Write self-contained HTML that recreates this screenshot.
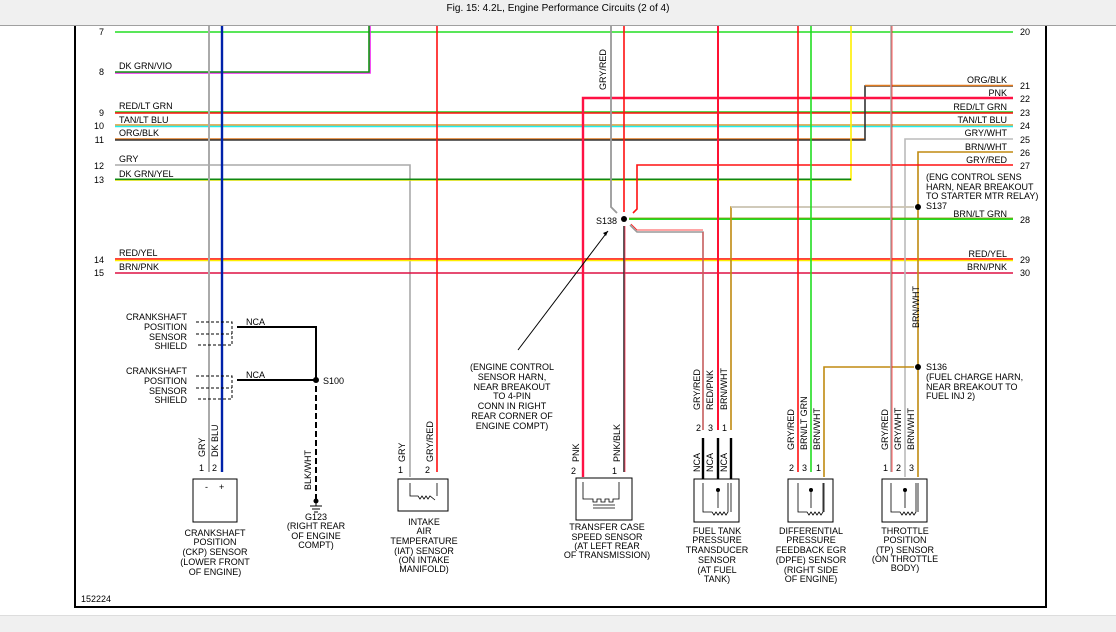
<!DOCTYPE html>
<html><head><style>
body{margin:0;background:#fff;width:1116px;height:632px;overflow:hidden}
svg{display:block}
text{font-family:"Liberation Sans",sans-serif;font-size:9px;fill:#000}
</style></head><body>
<svg width="1116" height="632" viewBox="0 0 1116 632">
<rect x="0" y="0" width="1116" height="25" fill="#f0f0f0"/>
<line x1="0" y1="25.5" x2="1116" y2="25.5" stroke="#a0a0a0"/>
<text x="558" y="11" text-anchor="middle" style="font-size:10px">Fig. 15: 4.2L, Engine Performance Circuits (2 of 4)</text>
<rect x="0" y="616" width="1116" height="16" fill="#f0f0f0"/>
<line x1="0" y1="615.5" x2="1116" y2="615.5" stroke="#ddd"/>
<!-- frame -->
<path d="M75 26V607H1046V26" fill="none" stroke="#000" stroke-width="2"/>
<g fill="none" stroke-width="1.6">
<!-- horizontal buses -->
<line x1="115" y1="32" x2="1013" y2="32" stroke="#22dd22"/>
<path d="M115 73H370V26" stroke="#ee22ee"/>
<path d="M115 72H369V26" stroke="#119911"/>
<line x1="115" y1="112" x2="1013" y2="112" stroke="#22cc22"/>
<line x1="115" y1="113" x2="1013" y2="113" stroke="#ff1111"/>
<line x1="115" y1="125" x2="1013" y2="125" stroke="#d89a33"/>
<line x1="115" y1="126.5" x2="1013" y2="126.5" stroke="#22eeee"/>
<line x1="115" y1="139" x2="865" y2="139" stroke="#e07a20"/>
<path d="M115 140H865V86H1013" stroke="#333"/>
<line x1="865" y1="85.5" x2="1013" y2="85.5" stroke="#e07a20"/>
<path d="M115 165H410V477" stroke="#aaaaaa"/>
<path d="M115 180H851V26" stroke="#ffee00"/>
<line x1="115" y1="179.3" x2="851" y2="179.3" stroke="#118811"/>
<line x1="115" y1="259" x2="1013" y2="259" stroke="#ff0000"/>
<line x1="115" y1="260.5" x2="1013" y2="260.5" stroke="#ffee00"/>
<line x1="115" y1="273" x2="1013" y2="273" stroke="#dd1144"/>
<path d="M583 477V98H1013" stroke="#ff1144" stroke-width="2.4"/>
<path d="M905 477V139H1013" stroke="#bbbbbb"/>
<path d="M918 477V152H1013" stroke="#c08a10"/>
<path d="M633 213L637 209V165H1013" stroke="#ff1111"/>
<path d="M629 219H1013" stroke="#22dd22" stroke-width="2"/>
<line x1="629" y1="218" x2="1013" y2="218" stroke="#888800" stroke-width="0.8"/>
<path d="M731 477V207H914" stroke="#c08a10"/>
<line x1="731" y1="207" x2="914" y2="207" stroke="#cccccc"/>
<path d="M824 477V367H914" stroke="#c08a10"/>
<!-- verticals -->
<line x1="209" y1="26" x2="209" y2="472" stroke="#aaaaaa" stroke-width="2"/>
<line x1="222" y1="26" x2="222" y2="472" stroke="#0022aa" stroke-width="2.4"/>
<line x1="437" y1="26" x2="437" y2="472" stroke="#ff1111"/>
<path d="M611 26V207L617 213" stroke="#999" stroke-width="1.8"/>
<path d="M624 26V212" stroke="#ff1111"/>
<path d="M624 226V472" stroke="#333"/>
<line x1="625" y1="226" x2="625" y2="472" stroke="#ff3355" stroke-width="0.8"/>
<path d="M630 225L637 232H703V472" stroke="#999" stroke-width="1.6"/>
<path d="M631 224L637 230H703" stroke="#ff1111" stroke-width="0.8"/>
<line x1="718" y1="26" x2="718" y2="472" stroke="#ff1133" stroke-width="2"/>
<line x1="798" y1="26" x2="798" y2="472" stroke="#ff1111" stroke-width="1.6"/>
<line x1="811" y1="26" x2="811" y2="472" stroke="#22dd22" stroke-width="1.6"/>
<line x1="891" y1="26" x2="891" y2="472" stroke="#aaaaaa" stroke-width="1.6"/>
<line x1="892" y1="26" x2="892" y2="472" stroke="#ff1111" stroke-width="0.7"/>
<line x1="703" y1="232" x2="703" y2="472" stroke="#ff1111" stroke-width="0.7"/>
<!-- crankshaft shield -->
<path d="M237 327H316V380" stroke="#000" stroke-width="2"/>
<path d="M237 380H316" stroke="#000" stroke-width="2"/>
<path d="M316 386V500" stroke="#000" stroke-width="2" stroke-dasharray="6,3"/>
<!-- fuel tank NCA wires -->
<line x1="703" y1="440" x2="703" y2="479" stroke="#000" stroke-width="2.4"/>
<line x1="718" y1="440" x2="718" y2="479" stroke="#000" stroke-width="2.4"/>
<line x1="731" y1="440" x2="731" y2="479" stroke="#000" stroke-width="2.4"/>
</g>
<rect x="700" y="430" width="35" height="50" fill="#fff"/>
<g fill="none" stroke="#000" stroke-width="2.4">
<line x1="703" y1="438" x2="703" y2="479"/><line x1="718" y1="438" x2="718" y2="479"/><line x1="731" y1="438" x2="731" y2="479"/>
</g>
<rect x="694" y="479" width="45" height="43" fill="#fff" stroke="#000"/>
<!-- splice dots -->
<circle cx="624" cy="219" r="3"/><circle cx="918" cy="207" r="3"/><circle cx="918" cy="367" r="3"/><circle cx="316" cy="380" r="3"/>
<!-- shields text -->
<g fill="none" stroke="#000" stroke-width="1" stroke-dasharray="3,2">
<path d="M196 322H232V345H196"/><path d="M196 376H232V399H196"/>
<line x1="196" y1="334" x2="232" y2="334"/><line x1="196" y1="388" x2="232" y2="388"/>
</g>
<text x="187" y="320" text-anchor="end">CRANKSHAFT</text><text x="187" y="330" text-anchor="end">POSITION</text><text x="187" y="340" text-anchor="end">SENSOR</text><text x="187" y="349" text-anchor="end">SHIELD</text>
<text x="187" y="374" text-anchor="end">CRANKSHAFT</text><text x="187" y="384" text-anchor="end">POSITION</text><text x="187" y="394" text-anchor="end">SENSOR</text><text x="187" y="403" text-anchor="end">SHIELD</text>
<text x="246" y="325">NCA</text><text x="246" y="378">NCA</text><text x="323" y="384">S100</text>
<!-- ground -->
<path d="M310 506H322M312 509H320M314 512H318M316 500V506" stroke="#000" fill="none"/>
<circle cx="316" cy="501" r="2.5"/>
<!-- S138 leader -->
<line x1="518" y1="350" x2="608" y2="231" stroke="#000"/><path d="M608 231l-5 2l3 3z"/>
<!-- left numbers/labels -->
<g text-anchor="end">
<text x="104" y="35">7</text><text x="104" y="75">8</text><text x="104" y="116">9</text><text x="104" y="129">10</text><text x="104" y="143">11</text><text x="104" y="169">12</text><text x="104" y="183">13</text><text x="104" y="263">14</text><text x="104" y="276">15</text>
</g>
<text x="119" y="69">DK GRN/VIO</text><text x="119" y="109">RED/LT GRN</text><text x="119" y="123">TAN/LT BLU</text><text x="119" y="136">ORG/BLK</text><text x="119" y="162">GRY</text><text x="119" y="177">DK GRN/YEL</text><text x="119" y="256">RED/YEL</text><text x="119" y="270">BRN/PNK</text>
<g text-anchor="end">
<text x="1007" y="83">ORG/BLK</text><text x="1007" y="96">PNK</text><text x="1007" y="110">RED/LT GRN</text><text x="1007" y="123">TAN/LT BLU</text><text x="1007" y="136">GRY/WHT</text><text x="1007" y="150">BRN/WHT</text><text x="1007" y="163">GRY/RED</text><text x="1007" y="217">BRN/LT GRN</text><text x="1007" y="257">RED/YEL</text><text x="1007" y="270">BRN/PNK</text>
</g>
<g><text x="1020" y="35">20</text><text x="1020" y="89">21</text><text x="1020" y="102">22</text><text x="1020" y="116">23</text><text x="1020" y="129">24</text><text x="1020" y="143">25</text><text x="1020" y="156">26</text><text x="1020" y="169">27</text><text x="1020" y="223">28</text><text x="1020" y="263">29</text><text x="1020" y="276">30</text></g>
<text x="926" y="180">(ENG CONTROL SENS</text><text x="926" y="190">HARN, NEAR BREAKOUT</text><text x="926" y="199">TO STARTER MTR RELAY)</text><text x="926" y="209">S137</text>
<text x="926" y="370">S136</text><text x="926" y="380">(FUEL CHARGE HARN,</text><text x="926" y="390">NEAR BREAKOUT TO</text><text x="926" y="399">FUEL INJ 2)</text>
<text x="596" y="224">S138</text>
<g text-anchor="middle"><text x="512" y="370">(ENGINE CONTROL</text><text x="512" y="380">SENSOR HARN,</text><text x="512" y="390">NEAR BREAKOUT</text><text x="512" y="399">TO 4-PIN</text><text x="512" y="409">CONN IN RIGHT</text><text x="512" y="419">REAR CORNER OF</text><text x="512" y="429">ENGINE COMPT)</text></g>
<!-- rotated wire labels -->
<g style="font-size:8px">
<text transform="translate(606,90) rotate(-90)">GRY/RED</text>
<text transform="translate(919,328) rotate(-90)">BRN/WHT</text>
<text transform="translate(205,457) rotate(-90)">GRY</text>
<text transform="translate(218,457) rotate(-90)">DK BLU</text>
<text transform="translate(311,490) rotate(-90)">BLK/WHT</text>
<text transform="translate(405,462) rotate(-90)">GRY</text>
<text transform="translate(433,462) rotate(-90)">GRY/RED</text>
<text transform="translate(579,462) rotate(-90)">PNK</text>
<text transform="translate(620,462) rotate(-90)">PNK/BLK</text>
<text transform="translate(700,410) rotate(-90)">GRY/RED</text>
<text transform="translate(713,410) rotate(-90)">RED/PNK</text>
<text transform="translate(727,410) rotate(-90)">BRN/WHT</text>
<text transform="translate(700,472) rotate(-90)">NCA</text>
<text transform="translate(713,472) rotate(-90)">NCA</text>
<text transform="translate(727,472) rotate(-90)">NCA</text>
<text transform="translate(794,450) rotate(-90)">GRY/RED</text>
<text transform="translate(807,450) rotate(-90)">BRN/LT GRN</text>
<text transform="translate(820,450) rotate(-90)">BRN/WHT</text>
<text transform="translate(888,450) rotate(-90)">GRY/RED</text>
<text transform="translate(901,450) rotate(-90)">GRY/WHT</text>
<text transform="translate(914,450) rotate(-90)">BRN/WHT</text>
</g>
<!-- pin numbers -->
<text x="199" y="471">1</text><text x="212" y="471">2</text>
<text x="398" y="473">1</text><text x="425" y="473">2</text>
<text x="571" y="474">2</text><text x="612" y="474">1</text>
<text x="696" y="431">2</text><text x="708" y="431">3</text><text x="722" y="431">1</text>
<text x="789" y="471">2</text><text x="802" y="471">3</text><text x="816" y="471">1</text>
<text x="883" y="471">1</text><text x="896" y="471">2</text><text x="909" y="471">3</text>
<!-- sensor boxes -->
<g fill="#fff" stroke="#000">
<rect x="193" y="479" width="44" height="43"/>
<rect x="398" y="479" width="50" height="32"/>
<rect x="576" y="478" width="56" height="42"/>
<rect x="788" y="479" width="45" height="43"/>
<rect x="882" y="479" width="45" height="43"/>
</g>
<text x="205" y="490">-</text><text x="219" y="490">+</text>
<g fill="none" stroke="#000" stroke-width="0.8">
<path d="M410 483V496H418l2 3 2-3 2 3 2-3 2 3 2-3 5 4M437 483V496"/>
<path d="M583 482V499H593v3h4v-3h4v3h4v-3h4v3h4v-3h6V482M593 505H615M593 508H615"/>
<path d="M703 483V512H712l2 3 2-3 2 3 2-3 2 3 2-3 2 3 2-3V483M731 483V512M718 488V508"/>
<path d="M798 483V512H807l2 3 2-3 2 3 2-3 2 3 2-3 2 3 2-3V483M824 483V512M811 488V508"/>
<path d="M891 483V512H900l2 3 2-3 2 3 2-3 2 3 2-3 2 3 2-3V483M918 483V512M905 488V508"/>
</g>
<circle cx="718" cy="490" r="2"/><circle cx="811" cy="490" r="2"/><circle cx="905" cy="490" r="2"/>
<!-- captions -->
<g text-anchor="middle">
<text x="215" y="536">CRANKSHAFT</text><text x="215" y="545">POSITION</text><text x="215" y="555">(CKP) SENSOR</text><text x="215" y="565">(LOWER FRONT</text><text x="215" y="575">OF ENGINE)</text>
<text x="316" y="520">G123</text><text x="316" y="529">(RIGHT REAR</text><text x="316" y="539">OF ENGINE</text><text x="316" y="548">COMPT)</text>
<text x="424" y="525">INTAKE</text><text x="424" y="534">AIR</text><text x="424" y="544">TEMPERATURE</text><text x="424" y="554">(IAT) SENSOR</text><text x="424" y="563">(ON INTAKE</text><text x="424" y="572">MANIFOLD)</text>
<text x="607" y="530">TRANSFER CASE</text><text x="607" y="540">SPEED SENSOR</text><text x="607" y="549">(AT LEFT REAR</text><text x="607" y="558">OF TRANSMISSION)</text>
<text x="717" y="534">FUEL TANK</text><text x="717" y="543">PRESSURE</text><text x="717" y="553">TRANSDUCER</text><text x="717" y="563">SENSOR</text><text x="717" y="573">(AT FUEL</text><text x="717" y="582">TANK)</text>
<text x="811" y="534">DIFFERENTIAL</text><text x="811" y="543">PRESSURE</text><text x="811" y="553">FEEDBACK EGR</text><text x="811" y="563">(DPFE) SENSOR</text><text x="811" y="573">(RIGHT SIDE</text><text x="811" y="582">OF ENGINE)</text>
<text x="905" y="534">THROTTLE</text><text x="905" y="543">POSITION</text><text x="905" y="553">(TP) SENSOR</text><text x="905" y="562">(ON THROTTLE</text><text x="905" y="571">BODY)</text>
</g>
<text x="81" y="602">152224</text>
</svg>
</body></html>
